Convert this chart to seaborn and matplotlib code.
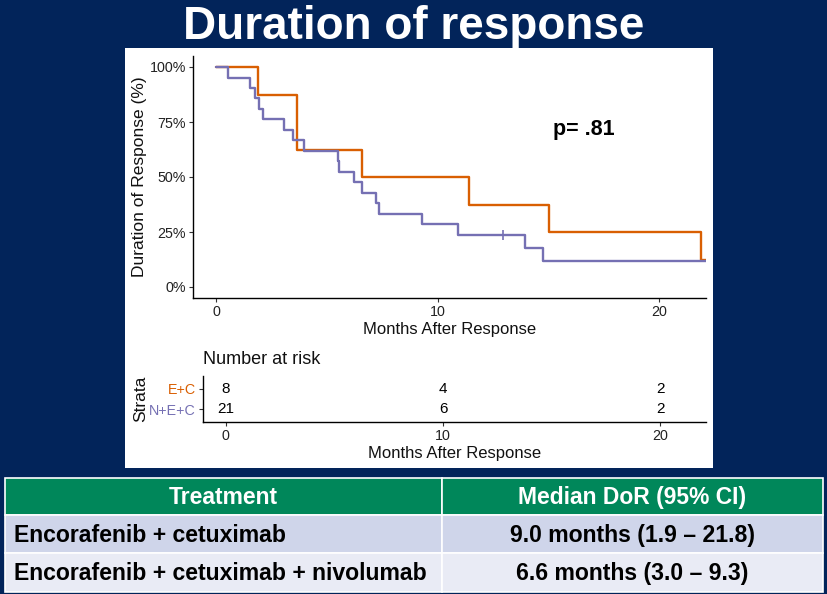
import matplotlib
matplotlib.use("Agg")
import matplotlib.pyplot as plt
from matplotlib.patches import Rectangle
import seaborn as sns
import pandas as pd

# ---------------- data ----------------
ec_times = [0, 1.9, 3.65, 6.58, 11.4, 15.0, 21.88, 22.3]
ec_surv = [100, 87.5, 62.5, 50.0, 37.5, 25.0, 12.5, 12.5]

nec_times = [0, 0.53, 1.53, 1.73, 1.94, 2.13, 3.05, 3.48, 3.95, 5.51, 5.55,
             6.23, 6.59, 7.19, 7.34, 9.27, 10.89, 13.93, 14.76, 22.3]
nec_surv = [100, 95.2, 90.5, 85.7, 81.0, 76.2, 71.4, 66.7, 61.9, 57.1, 52.4,
            47.6, 42.9, 38.1, 33.3, 28.6, 23.8, 17.9, 11.9, 11.9]

nec_censor_times = [12.96]
nec_censor_surv = [23.8]

strata = ["E+C", "N+E+C"]
colors = ["#D95F02", "#7570B3"]

risk_times = [0, 10, 20]
risk_ec = [8, 4, 2]
risk_nec = [21, 6, 2]

p_text = "p= .81"

table_header = ["Treatment", "Median DoR (95% CI)"]
table_rows = [["Encorafenib + cetuximab", "9.0 months (1.9 \u2013 21.8)"],
              ["Encorafenib + cetuximab + nivolumab", "6.6 months (3.0 \u2013 9.3)"]]

# ---------------- style ----------------
sns.set_theme(style="ticks")
plt.rcParams["font.family"] = ["Liberation Sans", "DejaVu Sans"]

W, H = 828, 594
NAVY = "#02245A"
fig = plt.figure(figsize=(W / 100, H / 100), dpi=100, facecolor=NAVY)


def fx(px):
    return px / W


def fy(py):
    return 1 - py / H


# white panel
fig.patches.append(Rectangle((fx(125), fy(468)), fx(713) - fx(125), fy(48) - fy(468),
                             transform=fig.transFigure, facecolor="white",
                             edgecolor="none", zorder=-10))

fig.text(0.5, fy(39), "Duration of response", ha="center", va="baseline",
         color="white", fontsize=33, fontweight="bold")

# ---------------- KM plot ----------------
ax = fig.add_axes([fx(193), fy(298), fx(706) - fx(193), fy(56) - fy(298)])
ax.set_zorder(2)
km = pd.concat([
    pd.DataFrame({"time": ec_times, "surv": ec_surv, "strata": strata[0]}),
    pd.DataFrame({"time": nec_times, "surv": nec_surv, "strata": strata[1]}),
])
sns.lineplot(data=km, x="time", y="surv", hue="strata", hue_order=strata,
             palette=colors, estimator=None, sort=False, drawstyle="steps-post",
             linewidth=1.7, legend=False, ax=ax)
cens = pd.DataFrame({"time": nec_censor_times, "surv": nec_censor_surv})
sns.scatterplot(data=cens, x="time", y="surv", marker="|", s=60, color=colors[1],
                linewidth=1.2, ax=ax, zorder=5)

ax.set_xlim(-1.05, 22.1)
ax.set_ylim(-5, 105)
ax.set_xticks([0, 10, 20])
ax.set_yticks([0, 25, 50, 75, 100])
ax.set_yticklabels(["0%", "25%", "50%", "75%", "100%"])
for s in ["top", "right"]:
    ax.spines[s].set_visible(False)
for s in ["left", "bottom"]:
    ax.spines[s].set_color("black")
    ax.spines[s].set_linewidth(1.0)
ax.tick_params(axis="both", labelsize=10.3, length=3, width=0.8, color="#333333",
               labelcolor="#222222", pad=2)
ax.set_xlabel("Months After Response", fontsize=12, labelpad=2, color="#111111")
ax.set_ylabel("Duration of Response (%)", fontsize=12.5, labelpad=2, color="#111111")
ax.text(16.6, 71.5, p_text, ha="center", va="center", fontsize=15.5,
        fontweight="bold", color="black")

# ---------------- risk table ----------------
rt = fig.add_axes([fx(203), fy(422), fx(706) - fx(203), fy(376) - fy(422)])
rt.set_zorder(2)
rt.set_xlim(-1.05, 22.1)
rt.set_ylim(-0.6, 1.6)
for t, n in zip(risk_times, risk_ec):
    rt.text(t, 1, str(n), ha="center", va="center", fontsize=11, color="black")
for t, n in zip(risk_times, risk_nec):
    rt.text(t, 0, str(n), ha="center", va="center", fontsize=11, color="black")
rt.set_yticks([1, 0])
rt.set_yticklabels(strata)
for lab, c in zip(rt.get_yticklabels(), colors):
    lab.set_color(c)
rt.set_xticks([0, 10, 20])
for s in ["top", "right"]:
    rt.spines[s].set_visible(False)
for s in ["left", "bottom"]:
    rt.spines[s].set_color("black")
    rt.spines[s].set_linewidth(1.0)
rt.tick_params(axis="both", labelsize=10.3, length=3, width=0.8, color="#333333", pad=2)
rt.tick_params(axis="x", labelcolor="#222222")
rt.set_xlabel("Months After Response", fontsize=12, labelpad=2, color="#111111")
rt.set_ylabel("Strata", fontsize=12.5, labelpad=1, color="#111111")
rt.set_title("Number at risk", loc="left", fontsize=13, pad=9, color="#111111")

# ---------------- bottom table ----------------
col_x = [5, 442, 823]
row_y = [478, 515, 553, 592]
baselines = [504, 542, 580]
fills = ["#00875A", "#CFD5EA", "#E9EBF5"]
for r in range(3):
    for c in range(2):
        fig.patches.append(Rectangle((fx(col_x[c]), fy(row_y[r + 1])),
                                     fx(col_x[c + 1]) - fx(col_x[c]),
                                     fy(row_y[r]) - fy(row_y[r + 1]),
                                     transform=fig.transFigure, facecolor=fills[r],
                                     edgecolor="white", linewidth=1.2, zorder=1))
for c in range(2):
    fig.text(fx((col_x[c] + col_x[c + 1]) / 2), fy(baselines[0]),
             table_header[c], ha="center", va="baseline", fontsize=16.5,
             fontweight="bold", color="white")
for r, row in enumerate(table_rows):
    yb = fy(baselines[r + 1])
    fig.text(fx(14), yb, row[0], ha="left", va="baseline", fontsize=16.6,
             fontweight="bold", color="black")
    fig.text(fx((col_x[1] + col_x[2]) / 2), yb, row[1], ha="center", va="baseline",
             fontsize=16.6, fontweight="bold", color="black")

fig.savefig("out.png", dpi=100, facecolor=NAVY)
